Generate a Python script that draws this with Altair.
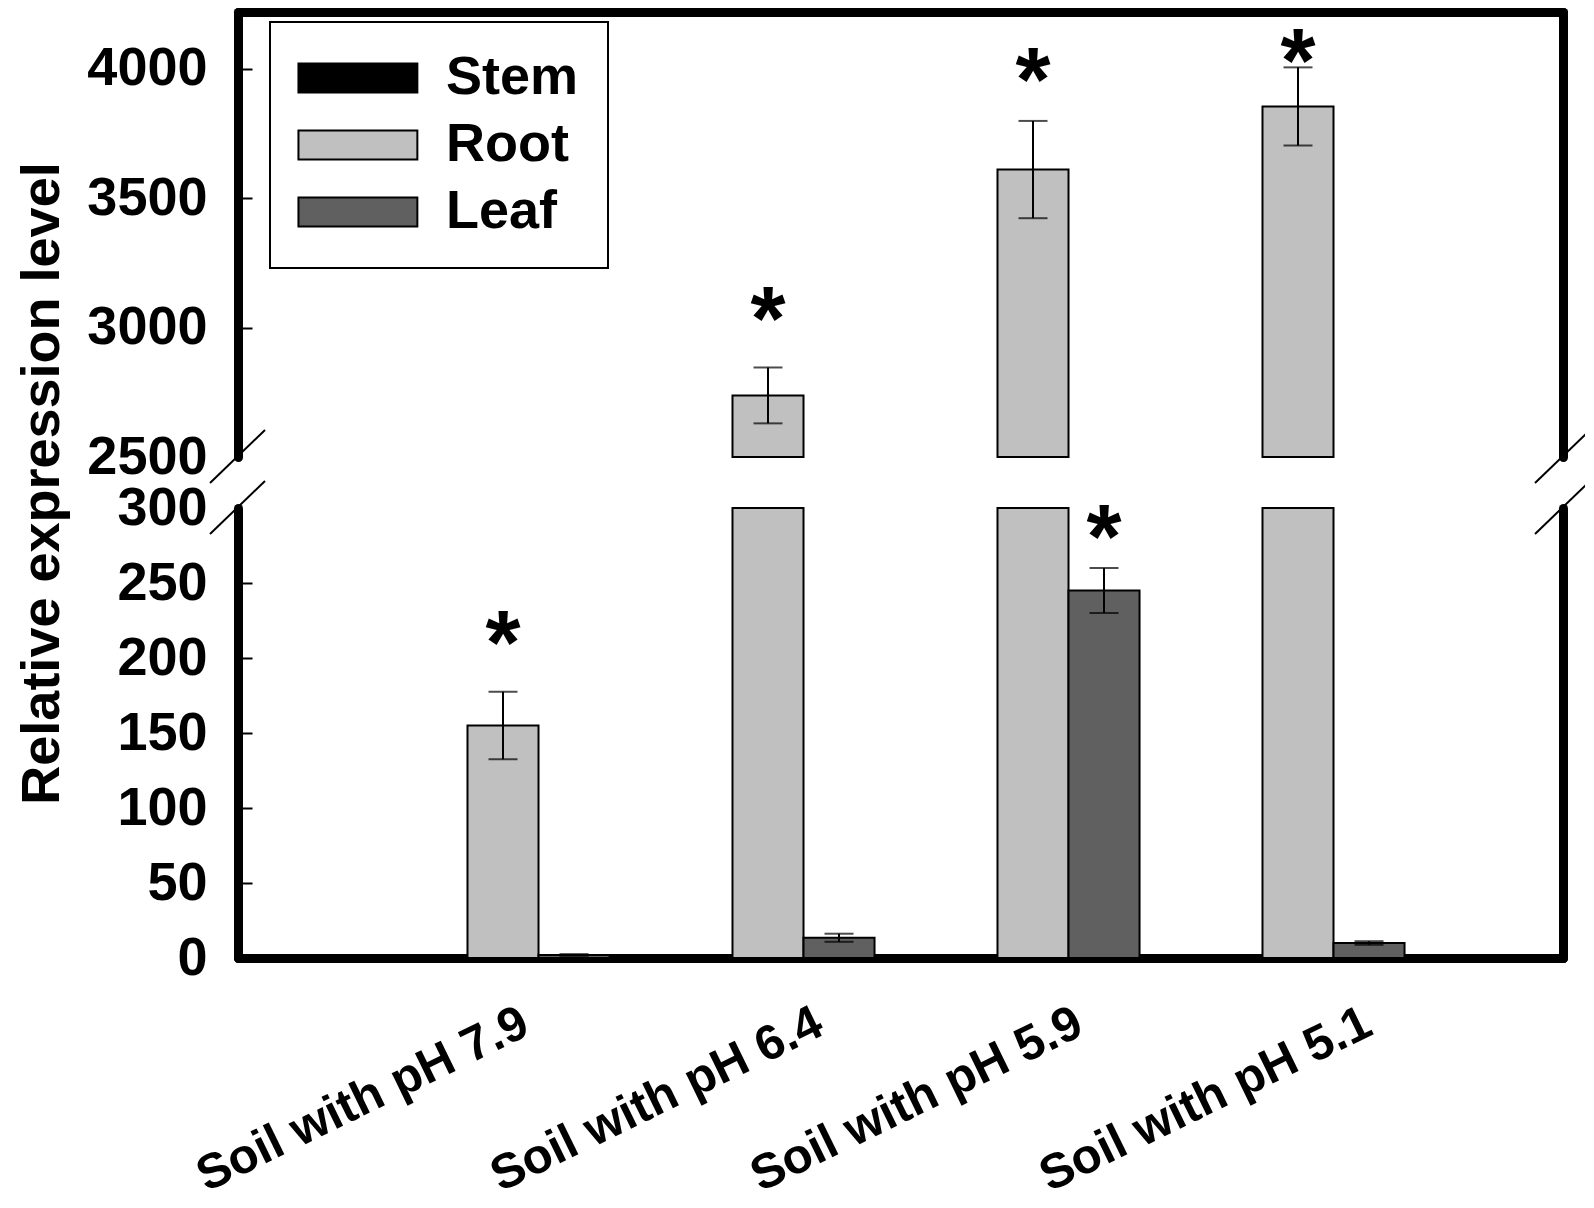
import altair as alt
import pandas as pd

# ---------------- data ----------------
groups = ["Soil with pH 7.9", "Soil with pH 6.4", "Soil with pH 5.9", "Soil with pH 5.1"]
tissues = ["Stem", "Root", "Leaf"]
tissue_colors = ["#000000", "#c0c0c0", "#606060"]

stem_mean = [0.5, 0.6, 0.5, 0.5]
stem_err = [0.2, 0.2, 0.2, 0.2]
root_mean = [155, 2738, 3611, 3855]
root_err = [22.5, 108, 188, 151]
leaf_mean = [2, 13.5, 245, 10]
leaf_err = [0.6, 2.7, 15, 1.2]

star_group = ["Soil with pH 7.9", "Soil with pH 6.4", "Soil with pH 5.9", "Soil with pH 5.1", "Soil with pH 5.9"]
star_tissue = ["Root", "Root", "Root", "Root", "Leaf"]
star_pos = [224, 3115, 4040, 4110, 295]

lower_ticks = [0, 50, 100, 150, 200, 250, 300]
upper_ticks = [2500, 3000, 3500, 4000]
lower_inner_ticks = [50, 100, 150, 200, 250]
upper_inner_ticks = [3000, 3500, 4000]
label_shift = [12, 41, 36, 60]

# ---------------- layout constants ----------------
W, HU, HL, GAP = 1325, 445, 450, 51
FONT = "Liberation Sans"
LOW_DOMAIN = [0, 300]
UP_DOMAIN = [2500, 4220]
CUT_LOW, CUT_UP = 300, 2500

rows = []
for i, g in enumerate(groups):
    for t, m, e in (("Stem", stem_mean[i], stem_err[i]),
                    ("Root", root_mean[i], root_err[i]),
                    ("Leaf", leaf_mean[i], leaf_err[i])):
        rows.append(dict(group=g, tissue=t, mean=m, lo=m - e, hi=m + e))
df = pd.DataFrame(rows)
lower_df = df.assign(top=df["mean"].clip(upper=CUT_LOW))
lower_err = df[df["mean"] <= CUT_LOW]
upper_df = df[df["mean"] > CUT_UP].assign(base=CUT_UP)
stars = pd.DataFrame(dict(group=star_group, tissue=star_tissue, pos=star_pos))
stars_up = stars[stars["pos"] > CUT_UP]
stars_low = stars[stars["pos"] <= CUT_LOW]
one = pd.DataFrame({"k": [0]})

xscale = alt.Scale(domain=groups, paddingInner=0.196, paddingOuter=0.598)
xoff = alt.XOffset("tissue:N", scale=alt.Scale(domain=tissues, paddingInner=0, paddingOuter=0))
cscale = alt.Scale(domain=tissues, range=tissue_colors)

cond = [{"test": f"datum.value === '{g}'", "value": s} for g, s in zip(groups, label_shift)]

x_axis_low = alt.Axis(title=None, orient="bottom", labelAngle=-26, labelAlign="right",
                      labelBaseline="top", labelFontSize=49, labelPadding=40, ticks=False,
                      tickSize=0, domainWidth=9, domainCap="round", labelOverlap=False,
                      labelLimit=0, labelFlush=False,
                      labelOffset={"condition": cond, "value": 0})
x_axis_up = alt.Axis(title=None, orient="top", labels=False, ticks=False, tickSize=0,
                     domainWidth=9, domainCap="round")

def frame_axis():
    return alt.Axis(orient="right", labels=False, ticks=False, tickSize=0, domainWidth=9,
                    domainCap="round", title=None, grid=False)

def inner_tick_axis(vals):
    return alt.Axis(orient="right", offset=-W, labels=False, domain=False, values=vals,
                    tickSize=14, tickWidth=2, tickColor="black", title=None, grid=False)

def breaks(yc):
    layers = []
    for xc in (0, W):
        layers.append(
            alt.Chart(one).mark_rule(color="black", strokeWidth=2).encode(
                x=alt.value(xc - 28), x2=alt.value(xc + 27),
                y=alt.value(yc + 26), y2=alt.value(yc - 27)))
    return layers

def panel(bars_df, err_df, star_df, ydomain, height, left_axis, inner_vals, x_axis, legend, cut_y, is_upper):
    ys = alt.Scale(domain=ydomain, nice=False, zero=False)
    X = alt.X("group:N", sort=groups, scale=xscale, axis=x_axis)
    if is_upper:
        bars = alt.Chart(bars_df).mark_bar(stroke="black", strokeWidth=2).encode(
            x=X, xOffset=xoff,
            y=alt.Y("mean:Q", scale=ys, axis=left_axis), y2="base:Q",
            color=alt.Color("tissue:N", scale=cscale, legend=legend))
    else:
        bars = alt.Chart(bars_df).mark_bar(stroke="black", strokeWidth=2).encode(
            x=X, xOffset=xoff,
            y=alt.Y("top:Q", scale=ys, axis=left_axis),
            color=alt.Color("tissue:N", scale=cscale, legend=legend))
    rule = alt.Chart(err_df).mark_rule(color="black", strokeWidth=2).encode(
        x=X, xOffset=xoff, y=alt.Y("lo:Q", scale=ys, axis=frame_axis()), y2="hi:Q")
    cap_hi = alt.Chart(err_df).mark_tick(color="black", size=29, thickness=2).encode(
        x=X, xOffset=xoff, y=alt.Y("hi:Q", scale=ys, axis=inner_tick_axis(inner_vals)))
    cap_lo = alt.Chart(err_df).mark_tick(color="black", size=29, thickness=2).encode(
        x=X, xOffset=xoff, y=alt.Y("lo:Q", scale=ys, axis=None))
    fs = 90
    star = alt.Chart(star_df).mark_text(text="*", font=FONT, fontSize=fs, fontWeight="bold",
                                        baseline="alphabetic", dy=round(0.575 * fs), color="black").encode(
        x=X, xOffset=xoff, y=alt.Y("pos:Q", scale=ys, axis=None))
    layers = [bars, rule, cap_hi, cap_lo, star] + breaks(cut_y)
    return alt.layer(*layers).resolve_axis(y="independent").properties(width=W, height=height)

left_up = alt.Axis(title=None, orient="left", values=upper_ticks, format="d", labelFontSize=54,
                   labelPadding=31, ticks=False, tickSize=0, domainWidth=9, domainCap="round",
                   labelOverlap=False, grid=False)
left_low = alt.Axis(title="Relative expression level", orient="left", values=lower_ticks, format="d",
                    labelFontSize=54, labelPadding=31, ticks=False, tickSize=0, domainWidth=9,
                    domainCap="round", labelOverlap=False, grid=False,
                    titleX=-196, titleY=-25, titleAngle=270, titleAlign="center",
                    titleBaseline="middle", titleFontSize=54)

legend = alt.Legend(title=None, orient="none", legendX=32, legendY=10,
                    symbolType="M-1.9,-1H6.3V1H-1.9Z", symbolSize=841,
                    symbolStrokeColor="black", symbolStrokeWidth=2, symbolOpacity=1,
                    labelFontSize=54, labelFont=FONT, labelFontWeight="bold", labelColor="black",
                    labelOffset=93, rowPadding=13, padding=29, strokeColor="black")

upper = panel(upper_df, upper_df, stars_up, UP_DOMAIN, HU, left_up, upper_inner_ticks,
              x_axis_up, legend, HU, True)
lower = panel(lower_df, lower_err, stars_low, LOW_DOMAIN, HL, left_low, lower_inner_ticks,
              x_axis_low, None, 0, False)

chart = alt.vconcat(upper, lower, spacing=GAP, bounds="flush",
                    padding={"left": 6, "top": 4, "right": -6, "bottom": 0}).resolve_scale(
    color="independent").resolve_legend(color="independent").configure_view(
    stroke=None).configure_axis(
    labelFont=FONT, labelFontWeight="bold", labelColor="black", titleFont=FONT,
    titleFontWeight="bold", titleColor="black", domainColor="black").configure_legend(
    strokeWidth=2)

chart.save("out.html", embed_options={"renderer": "svg", "actions": False})
